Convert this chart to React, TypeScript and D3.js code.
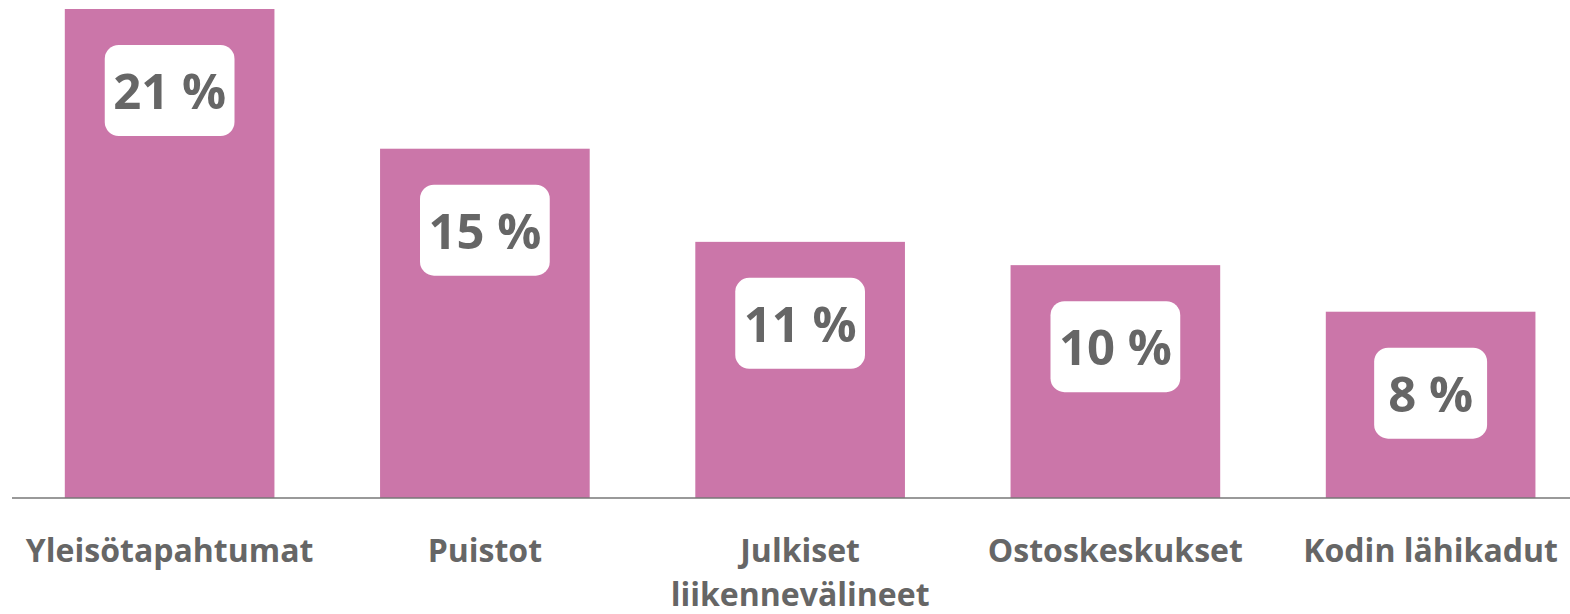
import React, { useEffect, useRef } from "react";
import * as d3 from "d3";

const categories: string[][] = [
  ["Yleisötapahtumat"],
  ["Puistot"],
  ["Julkiset", "liikennevälineet"],
  ["Ostoskeskukset"],
  ["Kodin lähikadut"],
];
const values: number[] = [21, 15, 11, 10, 8];
const valueLabels: string[] = ["21 %", "15 %", "11 %", "10 %", "8 %"];

const W = 1570;
const H = 614;
const BAR = "#cb76a9";
const TXT = "#666666";
const FONT = "'Open Sans', 'Noto Sans', sans-serif";

export default function App() {
  const ref = useRef<SVGSVGElement | null>(null);

  useEffect(() => {
    const svg = d3.select(ref.current);
    svg.selectAll("*").remove();

    const keys = categories.map((c) => c.join(" "));
    const x = d3
      .scaleBand<string>()
      .domain(keys)
      .range([12, 1588.25])
      .paddingInner(0.335)
      .paddingOuter(0.1675);
    const y = d3.scaleLinear().domain([0, 21]).range([498, 9]);

    const g = svg.append("g");

    g.selectAll("rect.bar")
      .data(values)
      .join("rect")
      .attr("class", "bar")
      .attr("x", (_, i) => x(keys[i])!)
      .attr("width", x.bandwidth())
      .attr("y", (d) => y(d))
      .attr("height", (d) => y(0) - y(d))
      .attr("fill", BAR);

    // axis line
    g.append("line")
      .attr("x1", 12)
      .attr("x2", W)
      .attr("y1", y(0))
      .attr("y2", y(0))
      .attr("stroke", "#777777")
      .attr("stroke-width", 1.6);

    // value labels
    values.forEach((v, i) => {
      const cx = x(keys[i])! + x.bandwidth() / 2;
      const top = y(v) + 36;
      const lg = g.append("g");
      const rect = lg.append("rect").attr("fill", "#ffffff").attr("rx", 14).attr("ry", 14);
      const t = lg
        .append("text")
        .attr("x", cx)
        .attr("y", top + 64)
        .attr("text-anchor", "middle")
        .attr("font-family", FONT)
        .attr("font-weight", 700)
        .attr("font-size", 49)
        .attr("fill", TXT)
        .text(valueLabels[i]);
      const tw = (t.node() as SVGTextElement).getComputedTextLength();
      const bw = tw * 0.6 + 62;
      rect
        .attr("x", cx - bw / 2)
        .attr("y", top)
        .attr("width", bw)
        .attr("height", 91);
    });

    // category labels
    categories.forEach((lines, i) => {
      const cx = x(keys[i])! + x.bandwidth() / 2;
      const t = g
        .append("text")
        .attr("text-anchor", "middle")
        .attr("font-family", FONT)
        .attr("font-weight", 700)
        .attr("font-size", 32)
        .attr("fill", TXT);
      lines.forEach((ln, j) => {
        t.append("tspan")
          .attr("x", cx)
          .attr("y", 562 + j * 44)
          .text(ln);
      });
    });
  }, []);

  return (
    <svg
      ref={ref}
      width={W}
      height={H}
      style={{ position: "absolute", left: 0, top: 0, background: "#ffffff" }}
    />
  );
}
